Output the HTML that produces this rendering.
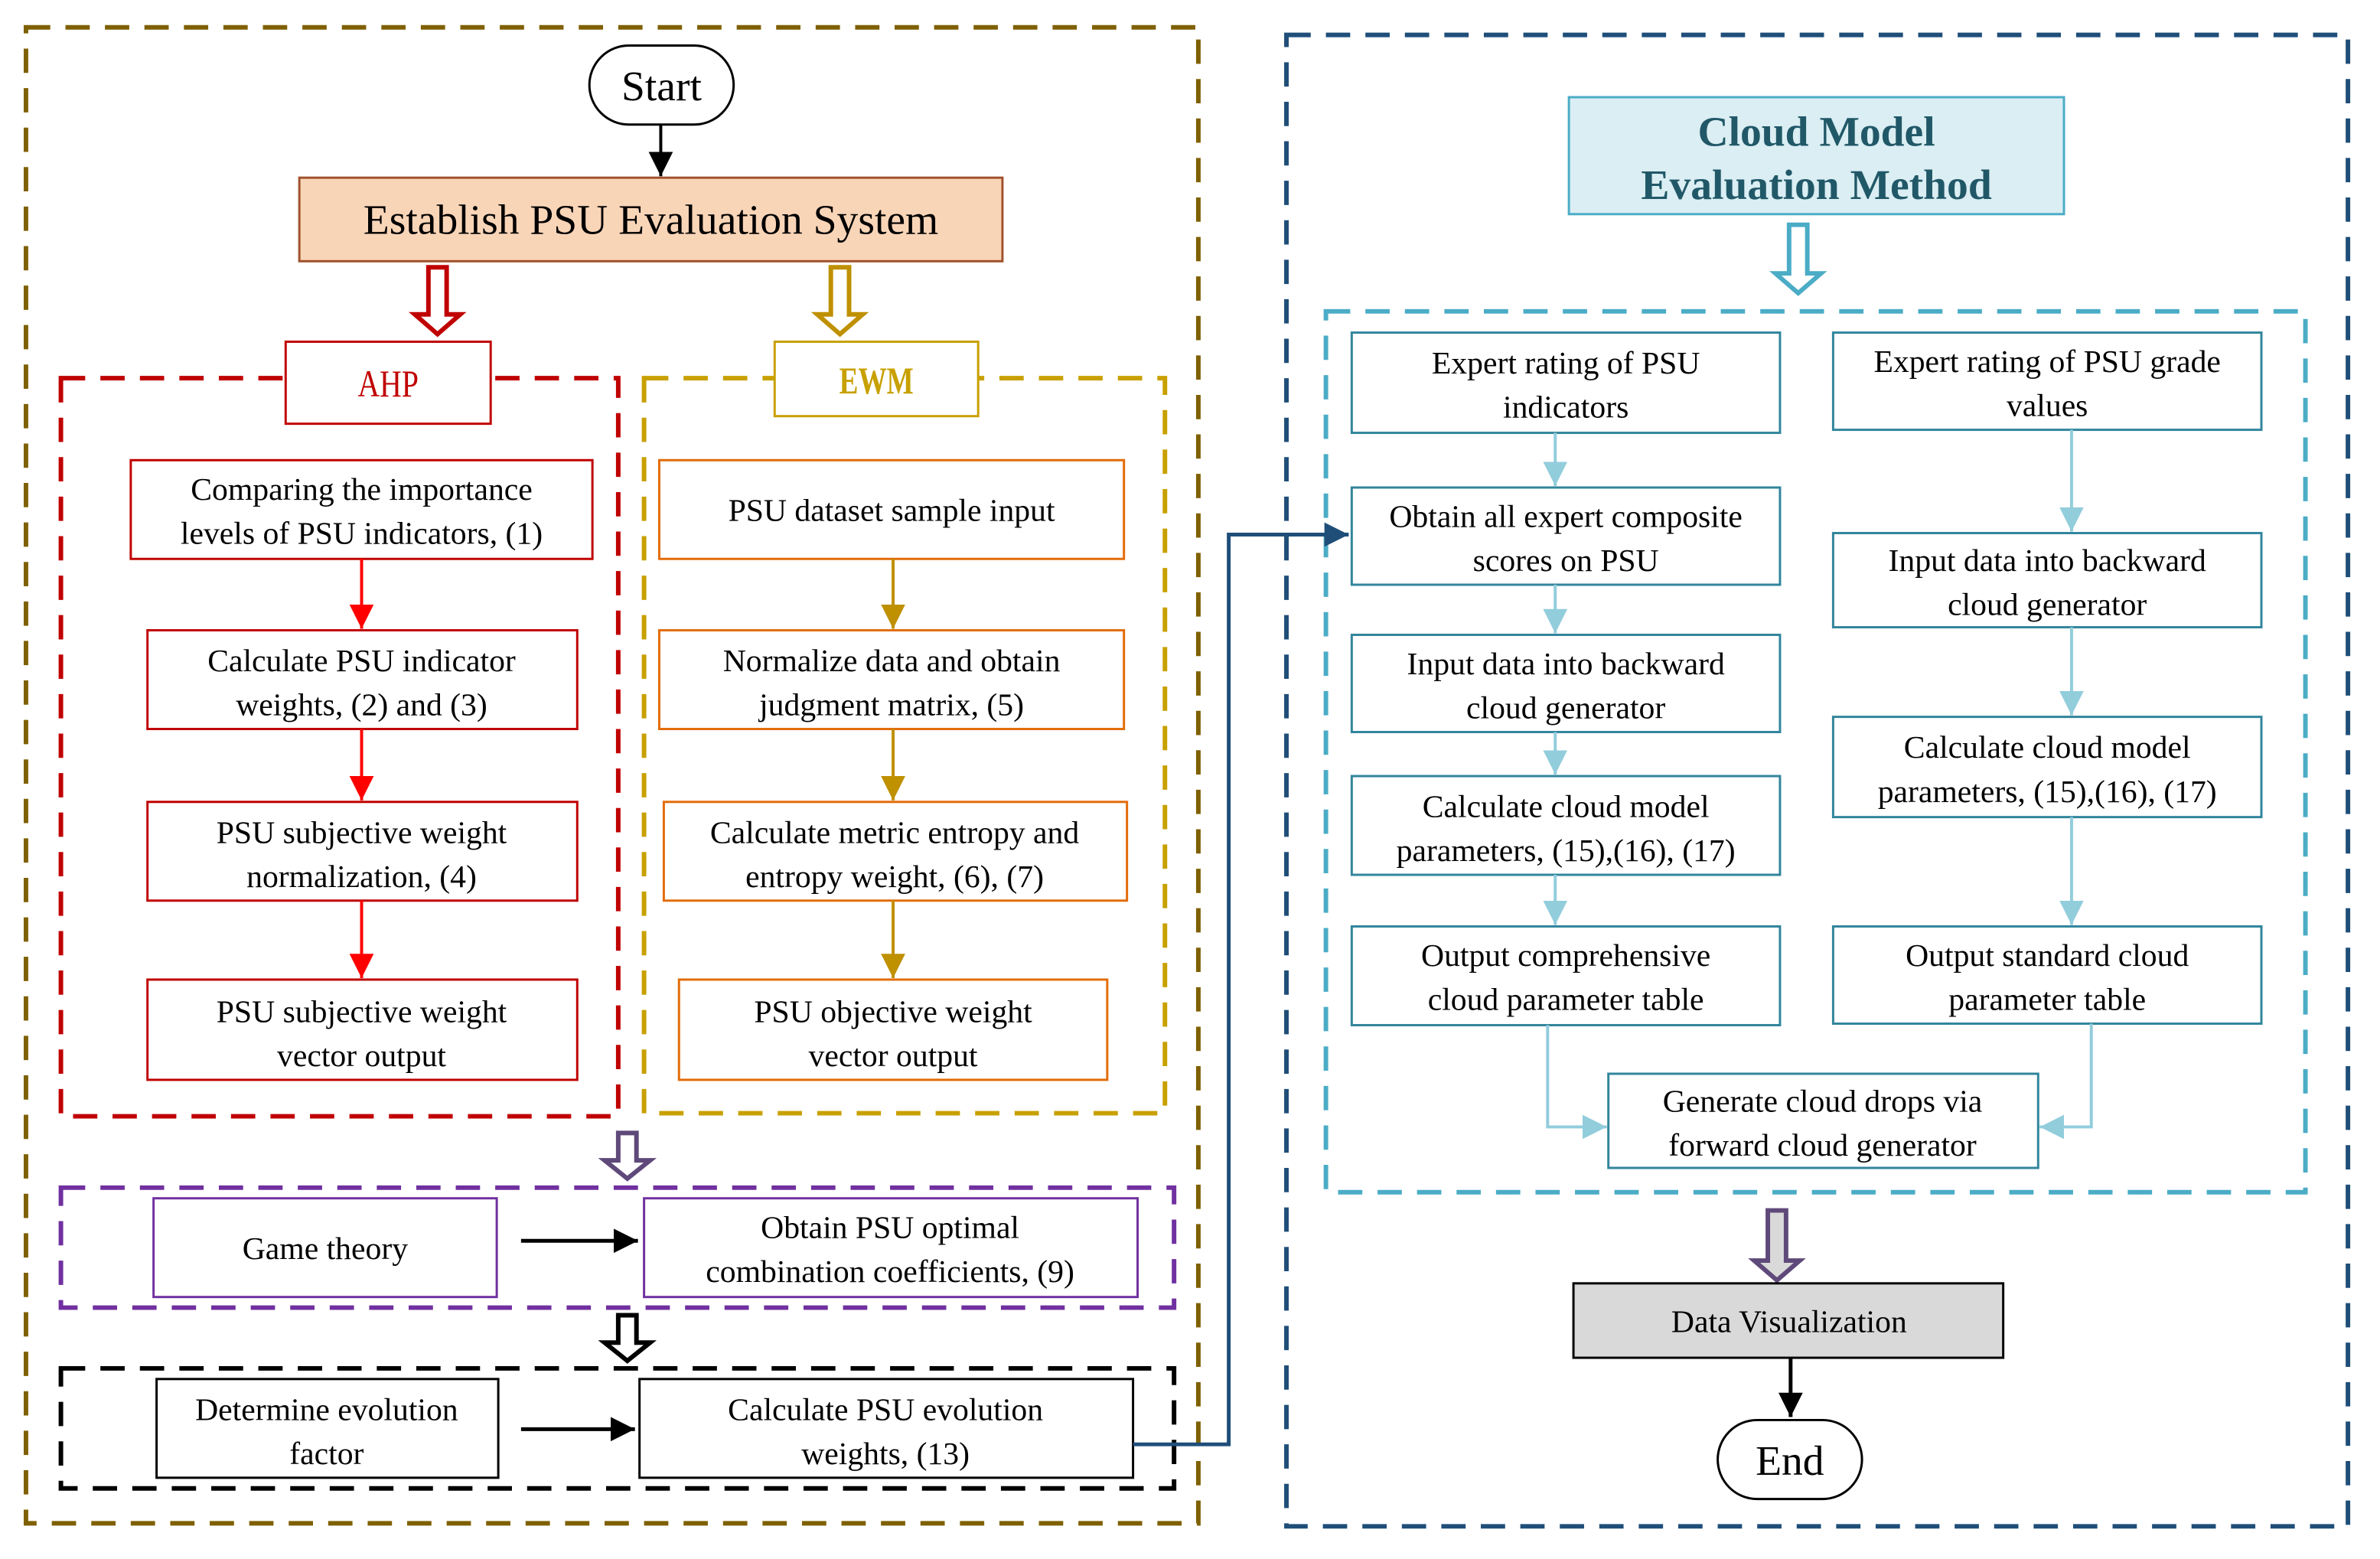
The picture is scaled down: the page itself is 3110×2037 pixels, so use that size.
<!DOCTYPE html>
<html><head><meta charset="utf-8"><style>html,body{margin:0;padding:0;background:#fff}svg{display:block}</style></head><body>
<svg xmlns="http://www.w3.org/2000/svg" width="3110" height="2037" viewBox="0 0 1567 1026.5" font-family="'Liberation Serif', serif">
<defs>
<marker id="mk" markerWidth="10" markerHeight="10" refX="9" refY="5" orient="auto" markerUnits="userSpaceOnUse" viewBox="0 0 10 10"><path d="M0,0 L10,5 L0,10 z" fill="#000"/></marker>
<marker id="mr" markerWidth="16" markerHeight="16" refX="10" refY="5" orient="auto" markerUnits="userSpaceOnUse" viewBox="0 0 10 10"><path d="M0,0 L10,5 L0,10 z" fill="#ff0000"/></marker>
<marker id="mg" markerWidth="16" markerHeight="16" refX="10" refY="5" orient="auto" markerUnits="userSpaceOnUse" viewBox="0 0 10 10"><path d="M0,0 L10,5 L0,10 z" fill="#bf9000"/></marker>
<marker id="mb" markerWidth="16" markerHeight="16" refX="10" refY="5" orient="auto" markerUnits="userSpaceOnUse" viewBox="0 0 10 10"><path d="M0,0 L10,5 L0,10 z" fill="#000"/></marker>
<marker id="mc" markerWidth="16" markerHeight="16" refX="10" refY="5" orient="auto" markerUnits="userSpaceOnUse" viewBox="0 0 10 10"><path d="M0,0 L10,5 L0,10 z" fill="#92cddc"/></marker>
<marker id="md" markerWidth="16" markerHeight="16" refX="10" refY="5" orient="auto" markerUnits="userSpaceOnUse" viewBox="0 0 10 10"><path d="M0,0 L10,5 L0,10 z" fill="#1f4e79"/></marker>
</defs>
<g fill="none" stroke-width="3" stroke-dasharray="16,10">
<rect x="17" y="18" width="772" height="985" stroke="#7f6000"/>
<rect x="40" y="249" width="367" height="486" stroke="#c00000"/>
<rect x="424" y="249" width="343" height="484" stroke="#c8a000"/>
<rect x="40" y="782" width="733" height="79" stroke="#7030a0"/>
<rect x="40" y="901" width="733" height="79" stroke="#000"/>
<rect x="847" y="23" width="699" height="982" stroke="#1f4e79"/>
<rect x="873" y="205" width="645" height="580" stroke="#4bacc6"/>
</g>
<rect x="388" y="30" width="95" height="52" rx="26" fill="#fff" stroke="#000" stroke-width="1.5"/>
<text x="435.5" y="66" font-size="28" text-anchor="middle">Start</text>
<line x1="435" y1="82" x2="435" y2="116" stroke="#000" stroke-width="2" marker-end="url(#mb)"/>
<rect x="197" y="117" width="463" height="55" fill="#f9d5b8" stroke="#a0522d" stroke-width="1.5"/>
<text x="428.5" y="154" font-size="28" text-anchor="middle">Establish PSU Evaluation System</text>
<g stroke-width="3" fill="#fff">
<polygon points="282,176 294,176 294,207 303,207 288,220 273,207 282,207" stroke="#c00000"/>
<polygon points="547,176 559,176 559,207 568,207 553,220 538,207 547,207" stroke="#bf9000"/>
<polygon points="407,746 419,746 419,764 428,764 413,776 398,764 407,764" stroke="#5f497a"/>
<polygon points="407,866 419,866 419,884 428,884 413,896 398,884 407,884" stroke="#000"/>
<polygon points="1178,148 1190,148 1190,180 1199,180 1184,193 1169,180 1178,180" stroke="#4bacc6"/>
<polygon points="1164,797 1176,797 1176,830 1185,830 1170,843 1155,830 1164,830" stroke="#5f497a" fill="#d9d9d9"/>
</g>
<rect x="188" y="225" width="135" height="54" fill="#fff" stroke="#c00000" stroke-width="1.5"/>
<text x="255.5" y="261" font-size="25" text-anchor="middle" fill="#c00000" transform="translate(255.5 0) scale(0.8 1) translate(-255.5 0)">AHP</text>
<rect x="510" y="225" width="134" height="49" fill="#fff" stroke="#c8a000" stroke-width="1.5"/>
<text x="577" y="259" font-size="25" text-anchor="middle" fill="#c8a000" font-weight="bold" transform="translate(577 0) scale(0.75 1) translate(-577 0)">EWM</text>
<g fill="#fff" stroke-width="1.5">
<rect x="86" y="303" width="304" height="65" stroke="#c00000"/>
<rect x="97" y="415" width="283" height="65" stroke="#c00000"/>
<rect x="97" y="528" width="283" height="65" stroke="#c00000"/>
<rect x="97" y="645" width="283" height="66" stroke="#c00000"/>
<rect x="434" y="303" width="306" height="65" stroke="#e36c09"/>
<rect x="434" y="415" width="306" height="65" stroke="#e36c09"/>
<rect x="437" y="528" width="305" height="65" stroke="#e36c09"/>
<rect x="447" y="645" width="282" height="66" stroke="#e36c09"/>
<rect x="101" y="789" width="226" height="65" stroke="#7030a0"/>
<rect x="424" y="789" width="325" height="65" stroke="#7030a0"/>
<rect x="103" y="908" width="225" height="65" stroke="#000"/>
<rect x="421" y="908" width="325" height="65" stroke="#000"/>
<rect x="1033" y="64" width="326" height="77" stroke="#4bacc6" fill="#daeef3"/>
<rect x="890" y="219" width="282" height="66" stroke="#31859c"/>
<rect x="890" y="321" width="282" height="64" stroke="#31859c"/>
<rect x="890" y="418" width="282" height="64" stroke="#31859c"/>
<rect x="890" y="511" width="282" height="65" stroke="#31859c"/>
<rect x="890" y="610" width="282" height="65" stroke="#31859c"/>
<rect x="1207" y="219" width="282" height="64" stroke="#31859c"/>
<rect x="1207" y="351" width="282" height="62" stroke="#31859c"/>
<rect x="1207" y="472" width="282" height="66" stroke="#31859c"/>
<rect x="1207" y="610" width="282" height="64" stroke="#31859c"/>
<rect x="1059" y="707" width="283" height="62" stroke="#31859c"/>
<rect x="1036" y="845" width="283" height="49" stroke="#000" fill="#d9d9d9"/>
</g>
<rect x="1131" y="935" width="95" height="52" rx="26" fill="#fff" stroke="#000" stroke-width="1.5"/>
<text x="1178.5" y="971" font-size="28" text-anchor="middle">End</text>
<g stroke-width="2" fill="none">
<line x1="238" y1="368" x2="238" y2="414" stroke="#ff0000" marker-end="url(#mr)"/>
<line x1="238" y1="480" x2="238" y2="527" stroke="#ff0000" marker-end="url(#mr)"/>
<line x1="238" y1="593" x2="238" y2="644" stroke="#ff0000" marker-end="url(#mr)"/>
<line x1="588" y1="368" x2="588" y2="414" stroke="#bf9000" marker-end="url(#mg)"/>
<line x1="588" y1="480" x2="588" y2="527" stroke="#bf9000" marker-end="url(#mg)"/>
<line x1="588" y1="593" x2="588" y2="644" stroke="#bf9000" marker-end="url(#mg)"/>
<line x1="343" y1="817" x2="420" y2="817" stroke="#000" stroke-width="2.5" marker-end="url(#mb)"/>
<line x1="343" y1="941" x2="418" y2="941" stroke="#000" stroke-width="2.5" marker-end="url(#mb)"/>
<polyline points="746,951 809,951 809,352 888,352" stroke="#1f4e79" stroke-width="2.5" marker-end="url(#md)"/>
<line x1="1024" y1="285" x2="1024" y2="320" stroke="#92cddc" marker-end="url(#mc)"/>
<line x1="1024" y1="385" x2="1024" y2="417" stroke="#92cddc" marker-end="url(#mc)"/>
<line x1="1024" y1="482" x2="1024" y2="510" stroke="#92cddc" marker-end="url(#mc)"/>
<line x1="1024" y1="576" x2="1024" y2="609" stroke="#92cddc" marker-end="url(#mc)"/>
<line x1="1364" y1="283" x2="1364" y2="350" stroke="#92cddc" marker-end="url(#mc)"/>
<line x1="1364" y1="413" x2="1364" y2="471" stroke="#92cddc" marker-end="url(#mc)"/>
<line x1="1364" y1="538" x2="1364" y2="609" stroke="#92cddc" marker-end="url(#mc)"/>
<polyline points="1019,675 1019,742 1058,742" stroke="#92cddc" marker-end="url(#mc)"/>
<polyline points="1377,674 1377,742 1343,742" stroke="#92cddc" marker-end="url(#mc)"/>
<line x1="1179" y1="894" x2="1179" y2="933" stroke="#000" stroke-width="2.5" marker-end="url(#mb)"/>
</g>
<g font-size="21" text-anchor="middle" fill="#000">
<text x="238" y="329">Comparing the importance</text><text x="238" y="358">levels of PSU indicators, (1)</text>
<text x="238" y="442">Calculate PSU indicator</text><text x="238" y="471">weights, (2) and (3)</text>
<text x="238" y="555">PSU subjective weight</text><text x="238" y="584">normalization, (4)</text>
<text x="238" y="673">PSU subjective weight</text><text x="238" y="702">vector output</text>
<text x="587" y="343">PSU dataset sample input</text>
<text x="587" y="442">Normalize data and obtain</text><text x="587" y="471">judgment matrix, (5)</text>
<text x="589" y="555">Calculate metric entropy and</text><text x="589" y="584">entropy weight, (6), (7)</text>
<text x="588" y="673">PSU objective weight</text><text x="588" y="702">vector output</text>
<text x="214" y="829">Game theory</text>
<text x="586" y="815">Obtain PSU optimal</text><text x="586" y="844">combination coefficients, (9)</text>
<text x="215" y="935">Determine evolution</text><text x="215" y="964">factor</text>
<text x="583" y="935">Calculate PSU evolution</text><text x="583" y="964">weights, (13)</text>
<text x="1031" y="246">Expert rating of PSU</text><text x="1031" y="275">indicators</text>
<text x="1031" y="347">Obtain all expert composite</text><text x="1031" y="376">scores on PSU</text>
<text x="1031" y="444">Input data into backward</text><text x="1031" y="473">cloud generator</text>
<text x="1031" y="538">Calculate cloud model</text><text x="1031" y="567">parameters, (15),(16), (17)</text>
<text x="1031" y="636">Output comprehensive</text><text x="1031" y="665">cloud parameter table</text>
<text x="1348" y="245">Expert rating of PSU grade</text><text x="1348" y="274">values</text>
<text x="1348" y="376">Input data into backward</text><text x="1348" y="405">cloud generator</text>
<text x="1348" y="499">Calculate cloud model</text><text x="1348" y="528">parameters, (15),(16), (17)</text>
<text x="1348" y="636">Output standard cloud</text><text x="1348" y="665">parameter table</text>
<text x="1200" y="732">Generate cloud drops via</text><text x="1200" y="761">forward cloud generator</text>
<text x="1178" y="877">Data Visualization</text>
</g>
<text x="1196" y="96" font-size="28" font-weight="bold" text-anchor="middle" fill="#215868">Cloud Model</text>
<text x="1196" y="131" font-size="28" font-weight="bold" text-anchor="middle" fill="#215868">Evaluation Method</text>
</svg>
</body></html>
